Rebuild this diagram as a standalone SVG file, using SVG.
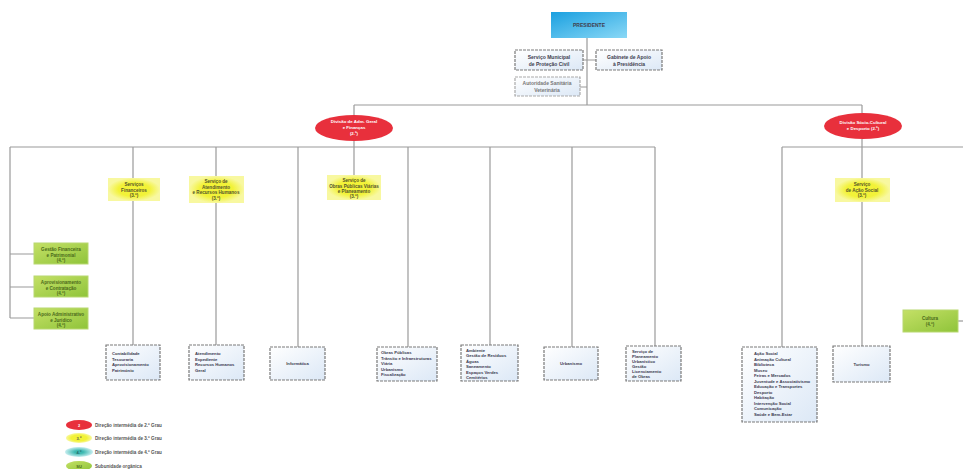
<svg xmlns="http://www.w3.org/2000/svg" width="963" height="469" viewBox="0 0 963 469">
<defs>
<linearGradient id="gBlue" x1="0" y1="0" x2="1" y2="1"><stop offset="0" stop-color="#1aa0e0"/><stop offset="1" stop-color="#8ad8f6"/></linearGradient>
<linearGradient id="gBox" x1="0" y1="0" x2="1" y2="1"><stop offset="0" stop-color="#ffffff"/><stop offset="1" stop-color="#dce8f6"/></linearGradient>
<linearGradient id="gGreen" x1="0" y1="0" x2="1" y2="1"><stop offset="0" stop-color="#c4e066"/><stop offset="1" stop-color="#8fc43a"/></linearGradient>
<radialGradient id="gYel"><stop offset="0.6" stop-color="#f2f238"/><stop offset="1" stop-color="#f8f8a0"/></radialGradient>
<radialGradient id="gTeal"><stop offset="0.3" stop-color="#3cb8b0"/><stop offset="1" stop-color="#c8eef0"/></radialGradient>
</defs>
<style>
text{font-family:"Liberation Sans",Arial,sans-serif;font-weight:bold;text-anchor:middle}
.ln{stroke:#9a9a9a;stroke-width:1.2;fill:none}
.bx{fill:url(#gBox);stroke:#7a7a7a;stroke-width:1.2;stroke-dasharray:3 1}
.bt{font-size:4.2px;fill:#3a3a50;text-anchor:start}
.yb{fill:url(#gYel)}
.yt{font-size:4.6px;fill:#55552a}
.gb{fill:url(#gGreen);stroke:#b8d870;stroke-width:1}
.gt{font-size:4.6px;fill:#4a6a1a}
.el{fill:#e8303c}
.et{font-size:4.4px;fill:#ffffff}
.lg{font-size:4.6px;fill:#555;text-anchor:start}
.tt{font-size:5px;fill:#404050}
</style>
<g id="connectors">
<path class="ln" d="M587 37 V105 M583 60 H596 M580 87 H587"/>
<path class="ln" d="M354 105 H862 M354 105 V115 M862 105 V113"/>
<path class="ln" d="M354 141 V147 M862 139 V147"/>
<path class="ln" d="M10 147 H655 M782 147 H963"/>
<path class="ln" d="M10 147 V318 M10 254 H34 M10 287 H34 M10 318 H34"/>
<path class="ln" d="M133 147 V178 M133 201 V345"/>
<path class="ln" d="M216 147 V176 M216 203 V345"/>
<path class="ln" d="M298 147 V347"/>
<path class="ln" d="M354 147 V175"/>
<path class="ln" d="M408 147 V347"/>
<path class="ln" d="M490 147 V345"/>
<path class="ln" d="M572 147 V347"/>
<path class="ln" d="M655 147 V346"/>
<path class="ln" d="M782 147 V347"/>
<path class="ln" d="M862 147 V178 M862 202 V346"/>
<path class="ln" d="M958 321 H963"/>
</g>
<g id="presidente">
<rect x="551" y="12" width="76" height="26" fill="url(#gBlue)"/>
<text class="tt" x="589" y="26.5">PRESIDENTE</text>
</g>
<g id="smpc">
<rect class="bx" x="515" y="50" width="68" height="20"/>
<text class="tt" x="549" y="59">Serviço Municipal</text>
<text class="tt" x="549" y="65.5">de Proteção Civil</text>
</g>
<g id="gap">
<rect class="bx" x="596" y="50" width="66" height="20"/>
<text class="tt" x="629" y="59">Gabinete de Apoio</text>
<text class="tt" x="629" y="65.5">à Presidência</text>
</g>
<g id="asv">
<rect class="bx" x="515" y="77" width="65" height="19" style="stroke:#aaa"/>
<text class="tt" x="547" y="85" style="fill:#777">Autoridade Sanitária</text>
<text class="tt" x="547" y="91.5" style="fill:#777">Veterinária</text>
</g>
<g id="div1">
<ellipse class="el" cx="354" cy="128" rx="39" ry="13"/>
<text class="et" x="354" y="122.5">Divisão de Adm. Geral</text>
<text class="et" x="354" y="128.5">e Finanças</text>
<text class="et" x="354" y="134.5">(2.º)</text>
</g>
<g id="div2">
<ellipse class="el" cx="863" cy="126" rx="39" ry="13"/>
<text class="et" x="863" y="124">Divisão Sócio-Cultural</text>
<text class="et" x="863" y="130">e Desporto (2.º)</text>
</g>
<g id="y1">
<rect class="yb" x="108" y="178" width="52" height="23"/>
<text class="yt" x="134" y="186">Serviços</text>
<text class="yt" x="134" y="191.5">Financeiros</text>
<text class="yt" x="134" y="197">(3.º)</text>
</g>
<g id="y2">
<rect class="yb" x="189" y="176" width="55" height="27"/>
<text class="yt" x="216" y="183">Serviço de</text>
<text class="yt" x="216" y="188.5">Atendimento</text>
<text class="yt" x="216" y="194">e Recursos Humanos</text>
<text class="yt" x="216" y="199.5">(3.º)</text>
</g>
<g id="y3">
<rect class="yb" x="327" y="175" width="54" height="25"/>
<text class="yt" x="354" y="182">Serviço de</text>
<text class="yt" x="354" y="187.5">Obras Públicas Viárias</text>
<text class="yt" x="354" y="193">e Planeamento</text>
<text class="yt" x="354" y="198">(3.º)</text>
</g>
<g id="y4">
<rect class="yb" x="835" y="178" width="55" height="24"/>
<text class="yt" x="862" y="186">Serviço</text>
<text class="yt" x="862" y="191.5">de Ação Social</text>
<text class="yt" x="862" y="197">(3.º)</text>
</g>
<g id="g1">
<rect class="gb" x="34" y="243" width="54" height="21"/>
<text class="gt" x="61" y="251">Gestão Financeira</text>
<text class="gt" x="61" y="256.5">e Patrimonial</text>
<text class="gt" x="61" y="262">(4.º)</text>
</g>
<g id="g2">
<rect class="gb" x="34" y="276" width="54" height="21"/>
<text class="gt" x="61" y="284">Aprovisionamento</text>
<text class="gt" x="61" y="289.5">e Contratação</text>
<text class="gt" x="61" y="295">(4.º)</text>
</g>
<g id="g3">
<rect class="gb" x="34" y="308" width="54" height="21"/>
<text class="gt" x="61" y="316">Apoio Administrativo</text>
<text class="gt" x="61" y="321.5">e Jurídico</text>
<text class="gt" x="61" y="327">(4.º)</text>
</g>
<g id="g4">
<rect class="gb" x="903" y="310" width="55" height="22"/>
<text class="gt" x="930" y="320">Cultura</text>
<text class="gt" x="930" y="326">(4.º)</text>
</g>
<g id="b1">
<rect class="bx" x="106" y="345" width="54" height="35"/>
<text class="bt" x="112" y="355">Contabilidade</text>
<text class="bt" x="112" y="360.5">Tesouraria</text>
<text class="bt" x="112" y="366">Aprovisionamento</text>
<text class="bt" x="112" y="371.5">Património</text>
</g>
<g id="b2">
<rect class="bx" x="189" y="345" width="55" height="35"/>
<text class="bt" x="195" y="355">Atendimento</text>
<text class="bt" x="195" y="360.5">Expediente</text>
<text class="bt" x="195" y="366">Recursos Humanos</text>
<text class="bt" x="195" y="371.5">Geral</text>
</g>
<g id="b3">
<rect class="bx" x="270" y="347" width="55" height="33"/>
<text class="bt" x="297.5" y="365" style="text-anchor:middle">Informática</text>
</g>
<g id="b4">
<rect class="bx" x="377" y="347" width="60" height="34"/>
<text class="bt" x="381" y="354">Obras Públicas</text>
<text class="bt" x="381" y="359.5">Trânsito e Infraestruturas</text>
<text class="bt" x="381" y="365">Viária</text>
<text class="bt" x="381" y="370.5">Urbanismo</text>
<text class="bt" x="381" y="376">Fiscalização</text>
</g>
<g id="b5">
<rect class="bx" x="461" y="345" width="57" height="36"/>
<text class="bt" x="466" y="351.5">Ambiente</text>
<text class="bt" x="466" y="357">Gestão de Resíduos</text>
<text class="bt" x="466" y="362.5">Águas</text>
<text class="bt" x="466" y="368">Saneamento</text>
<text class="bt" x="466" y="373.5">Espaços Verdes</text>
<text class="bt" x="466" y="379">Cemitérios</text>
</g>
<g id="b6">
<rect class="bx" x="544" y="347" width="54" height="33"/>
<text class="bt" x="571" y="365" style="text-anchor:middle">Urbanismo</text>
</g>
<g id="b7">
<rect class="bx" x="626" y="346" width="55" height="35"/>
<text class="bt" x="632" y="352.5">Serviço de</text>
<text class="bt" x="632" y="357.5">Planeamento</text>
<text class="bt" x="632" y="362.5">Urbanístico</text>
<text class="bt" x="632" y="367.5">Gestão</text>
<text class="bt" x="632" y="372.5">Licenciamento</text>
<text class="bt" x="632" y="377.5">de Obras</text>
</g>
<g id="b8">
<rect class="bx" x="742" y="347" width="75" height="75"/>
<text class="bt" x="754" y="355">Ação Social</text>
<text class="bt" x="754" y="360.5">Animação Cultural</text>
<text class="bt" x="754" y="366">Biblioteca</text>
<text class="bt" x="754" y="371.5">Museu</text>
<text class="bt" x="754" y="377">Feiras e Mercados</text>
<text class="bt" x="754" y="382.5">Juventude e Associativismo</text>
<text class="bt" x="754" y="388">Educação e Transportes</text>
<text class="bt" x="754" y="393.5">Desporto</text>
<text class="bt" x="754" y="399">Habitação</text>
<text class="bt" x="754" y="404.5">Intervenção Social</text>
<text class="bt" x="754" y="410">Comunicação</text>
<text class="bt" x="754" y="415.5">Saúde e Bem-Estar</text>
</g>
<g id="b9">
<rect class="bx" x="833" y="346" width="57" height="36"/>
<text class="bt" x="861.5" y="365.5" style="text-anchor:middle">Turismo</text>
</g>
<g id="legend">
<ellipse cx="79" cy="425" rx="13" ry="5" fill="#e8303c"/>
<text x="79" y="426.5" style="font-size:4px;fill:#fff">2</text>
<text class="lg" x="95" y="426.5">Direção intermédia de 2.º Grau</text>
<ellipse cx="79" cy="438" rx="13" ry="5" fill="url(#gYel)"/>
<text x="79" y="439.5" style="font-size:4px;fill:#555">3.º</text>
<text class="lg" x="95" y="439.5">Direção intermédia de 3.º Grau</text>
<ellipse cx="79" cy="452" rx="14" ry="5" fill="url(#gTeal)"/>
<text x="79" y="453.5" style="font-size:4px;fill:#2a6a6a">4.º</text>
<text class="lg" x="95" y="453.5">Direção intermédia de 4.º Grau</text>
<ellipse cx="79" cy="466" rx="13" ry="5" fill="url(#gGreen)"/>
<text x="79" y="467.5" style="font-size:4px;fill:#4a6a1a">SU</text>
<text class="lg" x="95" y="467.5">Subunidade orgânica</text>
</g>
</svg>
